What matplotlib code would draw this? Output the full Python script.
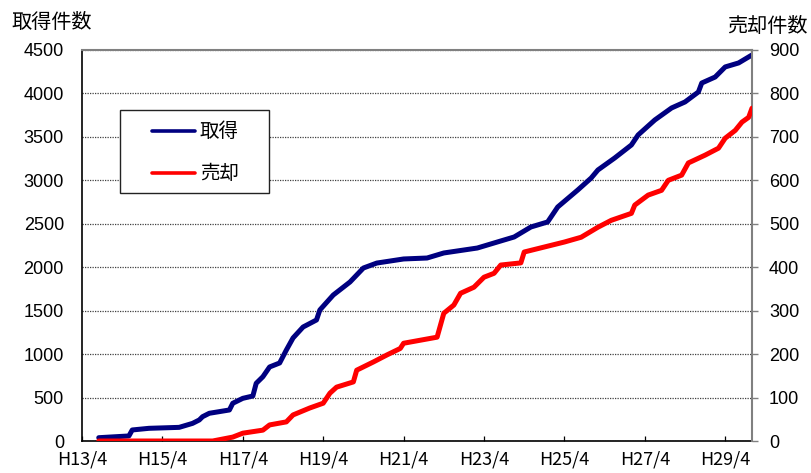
import matplotlib
matplotlib.use("Agg")
import matplotlib.pyplot as plt
from matplotlib.patches import Rectangle
from matplotlib.lines import Line2D

# months counted from H13/4
acq_months = [5, 14, 15, 20, 29, 33, 35, 36, 38, 44, 45, 48, 51, 52, 54, 56, 59, 61, 63, 66,
              70, 71, 75, 80, 84, 88, 96, 103, 108, 118, 125, 129, 134, 139, 142, 148, 152, 154, 159, 164,
              166, 171, 176, 180, 184, 185, 189, 192, 196, 200]
acq_counts = [38, 58, 127, 146, 157, 203, 242, 280, 319, 357, 434, 491, 518, 664, 740, 852, 898, 1047, 1186, 1312,
              1393, 1508, 1680, 1830, 1991, 2048, 2095, 2106, 2164, 2221, 2302, 2348, 2463, 2521, 2693, 2889, 3027, 3119, 3257, 3407,
              3522, 3695, 3833, 3902, 4017, 4120, 4189, 4305, 4351, 4443]

sale_months = [5, 39, 45, 48, 54, 56, 61, 63, 68, 72, 74, 76, 81, 82, 87, 91, 95, 96, 106, 108,
               111, 113, 117, 120, 123, 125, 131, 132, 144, 149, 154, 158, 164, 165, 169, 173, 175, 179, 181, 186,
               190, 192, 195, 197, 199, 200]
sale_counts = [0, 0, 9, 18, 25, 37, 44, 60, 76, 87, 110, 124, 136, 163, 182, 198, 213, 225, 239, 294,
               313, 340, 354, 377, 386, 405, 410, 435, 458, 469, 492, 508, 524, 543, 566, 577, 600, 612, 640, 658,
               674, 697, 715, 734, 745, 766]

tick_months = [0, 24, 48, 72, 96, 120, 144, 168, 192]
tick_labels = ["H13/4", "H15/4", "H17/4", "H19/4", "H21/4", "H23/4", "H25/4", "H27/4", "H29/4"]

series_names = ["取得", "売却"]
series_colors = ["#000080", "#FF0000"]

jp = ["Noto Sans CJK JP", "DejaVu Sans"]
num = ["Liberation Sans", "DejaVu Sans"]

fig = plt.figure(figsize=(8.11, 4.73), dpi=100)
ax = fig.add_axes([82 / 811, 32 / 473, 670 / 811, 391 / 473])
ax2 = ax.twinx()

ax.plot(acq_months, acq_counts, color=series_colors[0], lw=3.6,
        solid_capstyle="round", solid_joinstyle="round", zorder=3)
ax2.plot(sale_months, sale_counts, color=series_colors[1], lw=3.6,
         solid_capstyle="round", solid_joinstyle="round", zorder=3)

ax.set_xlim(0, 200)
ax.set_ylim(0, 4500)
ax2.set_ylim(0, 900)
ax.set_yticks(range(0, 4501, 500))
ax2.set_yticks(range(0, 901, 100))
ax.set_xticks(tick_months)
ax.set_xticklabels(tick_labels, family=jp, fontsize=13)

for lab in ax.get_yticklabels():
    lab.set_family(num)
    lab.set_fontsize(13)
for lab in ax2.get_yticklabels():
    lab.set_family(num)
    lab.set_fontsize(13)

ax.grid(axis="y", color="#404040", linestyle=(0, (1, 1)), lw=0.9)
ax.tick_params(axis="y", length=0, pad=13)
ax.tick_params(axis="x", direction="in", length=3.6, width=0.9, pad=6.5)
ax2.tick_params(axis="y", direction="out", length=4.3, width=1, color="#808080", pad=8)

ax.spines["top"].set_visible(False)
ax.spines["right"].set_visible(False)
ax.spines["left"].set_color("black")
ax.spines["bottom"].set_color("black")
ax.spines["left"].set_linewidth(1.2)
ax.spines["bottom"].set_linewidth(1.2)
ax2.spines["left"].set_visible(False)
ax2.spines["bottom"].set_visible(False)
ax2.spines["top"].set_color("#808080")
ax2.spines["right"].set_color("#808080")
ax2.spines["top"].set_linewidth(1.5)
ax2.spines["right"].set_linewidth(1.5)

# legend box
ax2.add_patch(Rectangle((0.0567, 0.634), 0.2224, 0.2123, transform=ax2.transAxes,
                        facecolor="white", edgecolor="#222222", lw=1.0, zorder=5))
for name, col, yy in zip(series_names, series_colors, [0.7928, 0.6854]):
    ax2.add_line(Line2D([0.1045, 0.1687], [yy, yy], transform=ax2.transAxes,
                        color=col, lw=2.6, solid_capstyle="round", zorder=6))
    ax2.text(0.1761, yy, name, transform=ax2.transAxes, va="center", ha="left",
             family=jp, fontsize=14, zorder=6)

fig.text(52 / 811, 1 - 23 / 473, "取得件数", family=jp, fontsize=14.5, ha="center", va="center")
fig.text(767 / 811, 1 - 27 / 473, "売却件数", family=jp, fontsize=14.5, ha="center", va="center")

fig.savefig("out.png", dpi=100)
